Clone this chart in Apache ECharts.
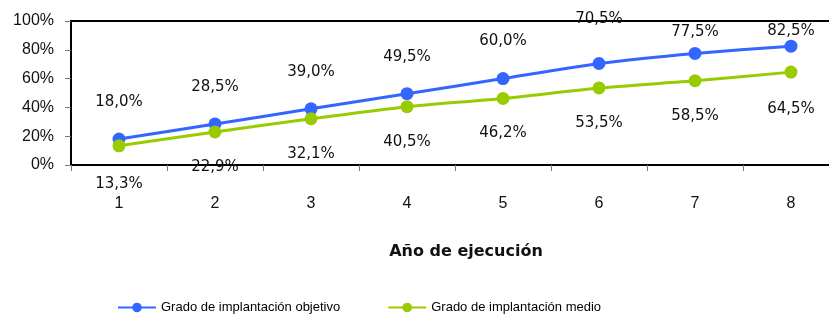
<!DOCTYPE html>
<html>
<head>
<meta charset="utf-8">
<script src="https://cdn.jsdelivr.net/npm/echarts@6/dist/echarts.min.js"></script>
<style>
  html, body { margin: 0; padding: 0; background: #fff; }
  #chart { width: 829px; height: 316px; }
</style>
</head>
<body>
<div id="chart"></div>
<script>
const years = ['1', '2', '3', '4', '5', '6', '7', '8'];
const objetivo = [18.0, 28.5, 39.0, 49.5, 60.0, 70.5, 77.5, 82.5];
const medio = [13.3, 22.9, 32.1, 40.5, 46.2, 53.5, 58.5, 64.5];
const yTicks = [0, 20, 40, 60, 80, 100];

// extra label shifts so the top labels sit where Excel put them
const objetivoShift = [0, 0, 0, 0, 0, -7, 16, 22];
const medioShift = [3, 0, 0, 0, 0, 0, 0, 2];

function fmt(v) {
  return v.toFixed(1).replace('.', ',') + '%';
}

let chart = echarts.init(document.getElementById('chart'));

let labelFont = {
  fontFamily: 'DejaVu Sans',
  fontSize: 15,
  color: '#111',
};

let option = {
  animation: false,
  backgroundColor: '#fff',
  grid: {
    left: 71,
    top: 21,
    width: 768,
    bottom: 151,
    outerBoundsMode: 'none',
    show: true,
    borderColor: '#000',
    borderWidth: 2,
  },
  legend: {
    left: 112,
    top: 296,
    itemWidth: 38,
    itemHeight: 12,
    itemGap: 47,
    textStyle: {
      fontFamily: 'Liberation Sans',
      fontSize: 13,
      color: '#000',
    },
  },
  xAxis: {
    type: 'category',
    data: years,
    boundaryGap: true,
    name: 'Año de ejecución',
    nameLocation: 'middle',
    nameGap: 79,
    nameTextStyle: {
      fontFamily: 'DejaVu Sans',
      fontSize: 16,
      fontWeight: 'bold',
      color: '#111',
      padding: [0, 0, 0, 22],
    },
    axisLine: { lineStyle: { color: '#000', width: 2 } },
    axisTick: { show: true, length: 6, lineStyle: { color: '#777' } },
    axisLabel: {
      margin: 31,
      fontFamily: 'Liberation Sans',
      fontSize: 16,
      color: '#111',
    },
    splitLine: { show: false },
  },
  yAxis: {
    type: 'value',
    min: yTicks[0],
    max: yTicks[yTicks.length - 1],
    interval: 20,
    axisLine: { show: true, lineStyle: { color: '#000', width: 2 } },
    axisTick: { show: true, length: 6, lineStyle: { color: '#777' } },
    axisLabel: {
      margin: 17,
      fontFamily: 'Liberation Sans',
      fontSize: 16,
      color: '#111',
      formatter: '{value}%',
    },
    splitLine: { show: false },
  },
  series: [
    {
      name: 'Grado de implantación objetivo',
      type: 'line',
      smooth: 0.2,
      color: '#3366FF',
      symbol: 'circle',
      symbolSize: 13,
      lineStyle: { width: 3 },
      data: objetivo.map((v, i) => ({
        value: v,
        label: { offset: [0, objetivoShift[i]] },
      })),
      label: {
        show: true,
        position: 'top',
        distance: 23,
        formatter: (p) => fmt(p.value),
        ...labelFont,
      },
    },
    {
      name: 'Grado de implantación medio',
      type: 'line',
      smooth: 0.2,
      color: '#99CC00',
      symbol: 'circle',
      symbolSize: 13,
      lineStyle: { width: 3 },
      data: medio.map((v, i) => ({
        value: v,
        label: { offset: [0, medioShift[i]] },
      })),
      label: {
        show: true,
        position: 'bottom',
        distance: 21,
        formatter: (p) => fmt(p.value),
        ...labelFont,
      },
    },
  ],
};

chart.setOption(option);
</script>
</body>
</html>
